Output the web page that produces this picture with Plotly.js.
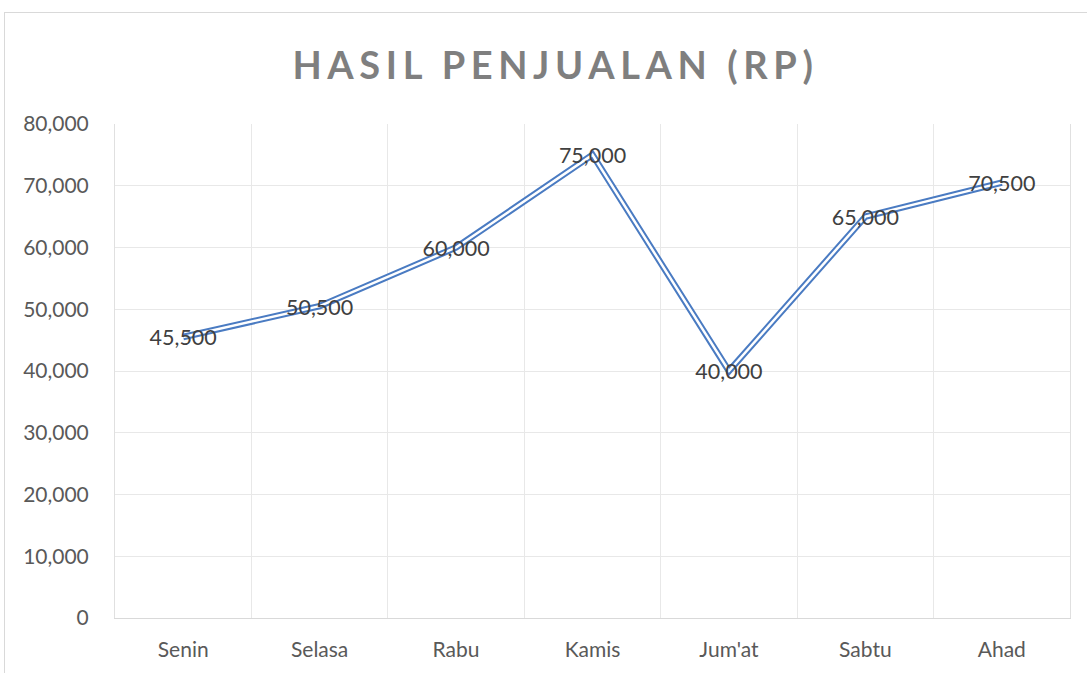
<!DOCTYPE html>
<html>
<head>
<meta charset="utf-8">
<script src="https://cdn.plot.ly/plotly-3.0.1.min.js"></script>
<style>
html,body{margin:0;padding:0;background:#fff;overflow:hidden;}
#chart{position:absolute;left:0;top:0;width:1087px;height:673px;}
#frame{position:absolute;left:4px;top:12px;width:1200px;height:800px;border:1px solid #d9d9d9;pointer-events:none;}
.gtitle{letter-spacing:5.6px;}
.textpoint text{transform:translateY(3px);}
</style>
</head>
<body>
<div id="chart"></div>
<div id="frame"></div>
<script>
var days = ["Senin", "Selasa", "Rabu", "Kamis", "Jum'at", "Sabtu", "Ahad"];
var sales = [45500, 50500, 60000, 75000, 40000, 65000, 70500];
var labels = ["45,500", "50,500", "60,000", "75,000", "40,000", "65,000", "70,500"];
var yTicks = [0, 10000, 20000, 30000, 40000, 50000, 60000, 70000, 80000];

var blue = '#4a7bc2';
var traces = [
  {x: days, y: sales, type: 'scatter', mode: 'lines', line: {color: blue, width: 6.5}, hoverinfo: 'skip'},
  {x: days, y: sales, type: 'scatter', mode: 'lines', line: {color: '#ffffff', width: 2.5}, hoverinfo: 'skip'},
  {x: days, y: sales, type: 'scatter', mode: 'text', text: labels, textposition: 'middle center',
   textfont: {family: 'Lato, sans-serif', size: 21.5, color: '#404040'}, hoverinfo: 'skip'}
];

var layout = {
  width: 1087, height: 673,
  margin: {l: 115, r: 17, t: 124, b: 55},
  paper_bgcolor: '#ffffff', plot_bgcolor: '#ffffff',
  showlegend: false,
  title: {
    text: 'HASIL PENJUALAN (RP)',
    font: {family: 'Lato, sans-serif', size: 38, color: '#7f7f7f', weight: 'bold'},
    xref: 'container', yref: 'container', x: 0.511, y: 0.903, xanchor: 'center', yanchor: 'middle'
  },
  xaxis: {
    type: 'category', range: [-0.5, 6.5], tickson: 'boundaries',
    showgrid: true, gridcolor: '#e8e8e8', gridwidth: 1,
    showline: true, linecolor: '#d9d9d9', linewidth: 1,
    ticks: '', ticklabelstandoff: 13,
    tickfont: {family: 'Lato, sans-serif', size: 21, color: '#595959'},
    fixedrange: true
  },
  yaxis: {
    range: [0, 80000], tickvals: yTicks, tickformat: ',',
    showgrid: true, gridcolor: '#e8e8e8', gridwidth: 1,
    zeroline: false, showline: true, mirror: true, linecolor: '#e0e0e0', linewidth: 1,
    ticks: '', ticklabelstandoff: 21,
    tickfont: {family: 'Lato, sans-serif', size: 21, color: '#595959'},
    fixedrange: true
  }
};

Plotly.newPlot('chart', traces, layout, {displayModeBar: false, staticPlot: true});
</script>
</body>
</html>
